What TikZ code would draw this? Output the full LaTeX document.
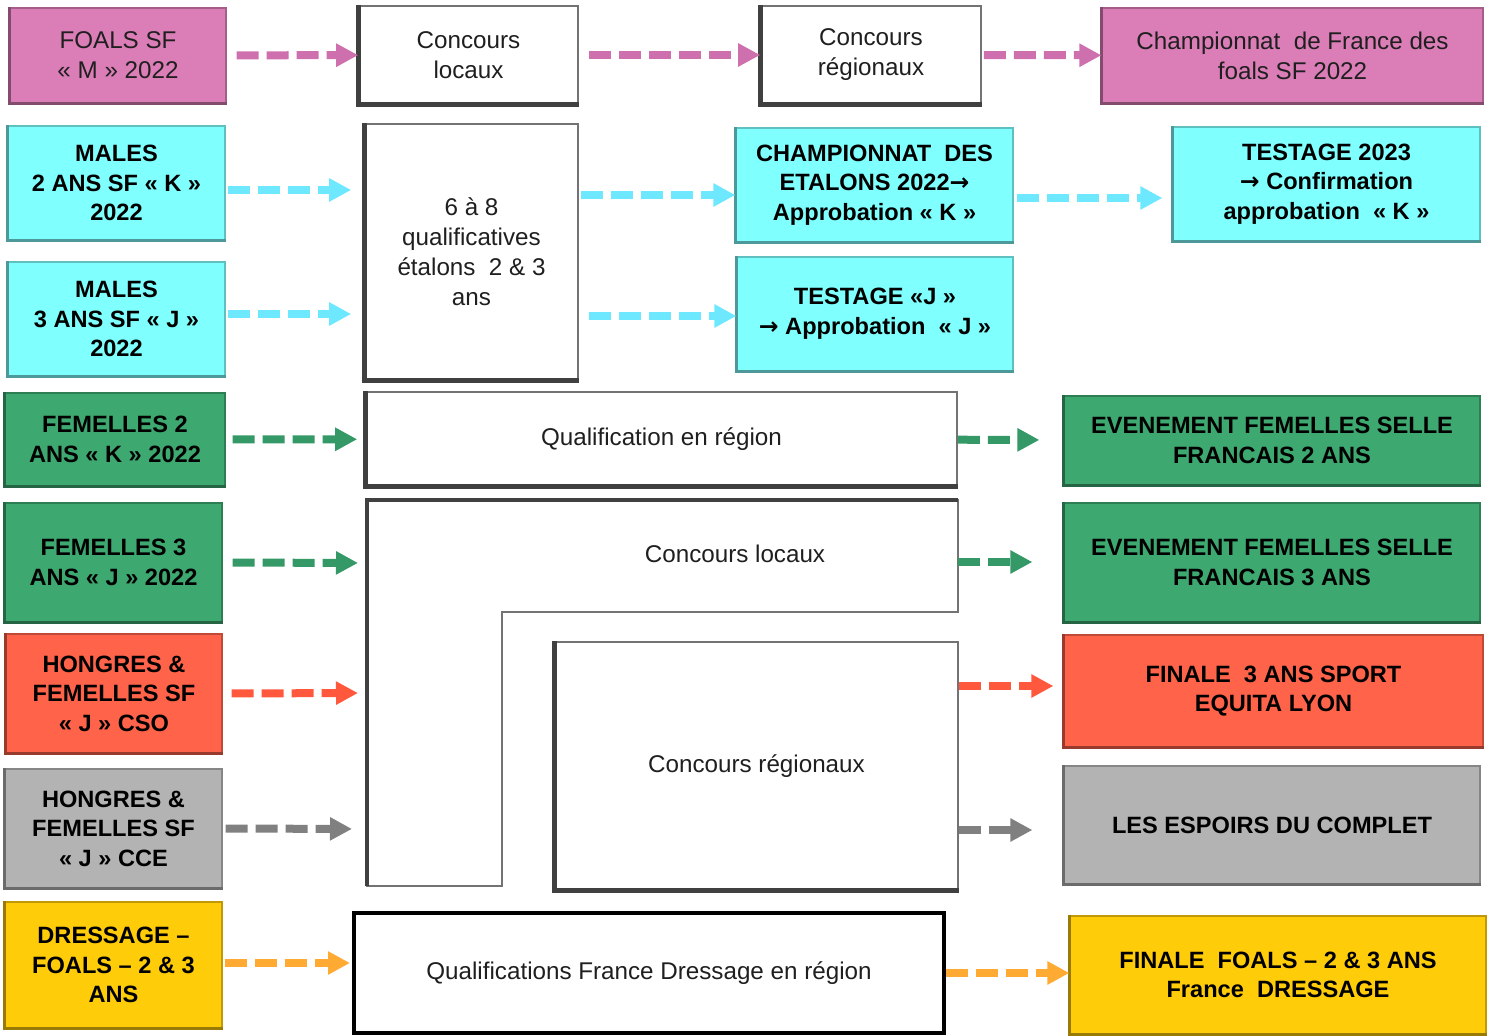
\documentclass[tikz,border=0pt]{standalone}
\usepackage{fontspec}
\setmainfont{Liberation Sans}
\newfontfamily\arrowfont{DejaVu Sans}
\newcommand{\rarr}{{\arrowfont →}}
\usetikzlibrary{arrows.meta,calc}

\definecolor{pinkB}{RGB}{219,125,183}
\definecolor{pinkA}{RGB}{206,112,174}
\definecolor{cyanB}{RGB}{128,255,255}
\definecolor{cyanA}{RGB}{110,232,255}
\definecolor{greenB}{RGB}{61,168,112}
\definecolor{greenA}{RGB}{52,153,102}
\definecolor{redB}{RGB}{255,99,74}
\definecolor{redA}{RGB}{255,88,60}
\definecolor{greyB}{RGB}{179,179,179}
\definecolor{greyA}{RGB}{128,128,128}
\definecolor{yellowB}{RGB}{255,204,10}
\definecolor{orangeA}{RGB}{255,170,51}

\tikzset{
  box/.style={rectangle, inner sep=0pt, align=center, text=black!88,
    font=\fontsize{12.1}{15}\selectfont},
  plain/.style={box, fill=white, draw=black!55, line width=0.8pt},
  tint/.style={box, fill=#1, draw=#1!75!black, line width=0.6pt},
  bold/.style={font=\fontsize{11.8}{14.8}\selectfont\bfseries, text=black},
  edgeline/.style={draw=#1, line width=2.4pt},
  flow/.style={draw=#1, line width=4pt, dash pattern=on 11pt off 4pt,
    -{Triangle[length=11pt,width=11pt]}},
}

\begin{document}
\begin{tikzpicture}[x=0.5pt, y=-0.5pt]
  \useasboundingbox (0,0) rectangle (1491,1036);

  % first column
  \node[tint=pinkB, minimum width=108pt, minimum height=47.5pt] (foals) at (118,55.5) {FOALS SF\\« M » 2022};
  \node[tint=cyanB, bold, minimum width=108.5pt, minimum height=57pt] (males2) at (116.5,183) {MALES\\2 ANS SF « K »\\2022};
  \node[tint=cyanB, bold, minimum width=108.5pt, minimum height=57pt] (males3) at (116.5,319) {MALES\\3 ANS SF « J »\\2022};
  \node[tint=greenB, bold, minimum width=110pt, minimum height=46.5pt] (fem2) at (115,439.5) {FEMELLES 2\\ANS « K » 2022};
  \node[tint=greenB, bold, minimum width=108.5pt, minimum height=59.5pt] (fem3) at (113.5,562.5) {FEMELLES 3\\ANS « J » 2022};
  \node[tint=redB, bold, minimum width=108pt, minimum height=59.5pt] (cso) at (114,693.5) {HONGRES \&\\FEMELLES SF\\« J » CSO};
  \node[tint=greyB, bold, minimum width=108.5pt, minimum height=59.5pt] (cce) at (113.5,828.5) {HONGRES \&\\FEMELLES SF\\« J » CCE};
  \node[tint=yellowB, bold, minimum width=108.5pt, minimum height=63pt] (dress) at (113.5,965) {DRESSAGE –\\FOALS – 2 \& 3\\ANS};

  % competitions
  \node[plain, minimum width=109.5pt, minimum height=49pt] (loc1) at (468.5,55) {Concours\\locaux};
  \node[plain, minimum width=110pt, minimum height=49pt] (reg1) at (871,55) {Concours\\régionaux};
  \node[plain, minimum width=106.5pt, minimum height=128pt] (qualif) at (471.5,252) {6 à 8\\qualificatives\\étalons~ 2 \& 3\\ans};
  \node[plain, minimum width=295.5pt, minimum height=47pt] (qreg) at (661.5,439) {Qualification en région};
  \draw[draw=black!55, line width=0.8pt, fill=white] (367,500) -- (958,500) -- (958,612) -- (502,612) -- (502,886) -- (367,886) -- cycle;
  \draw[edgeline=black!75] (367,886) -- (367,500) -- (958,500);
  \node[box] (locL) at (735,554) {Concours locaux};
  \coordinate (Lin1) at (367,563);
  \coordinate (Lin2) at (367,693);
  \coordinate (Lin3) at (367,829);
  \coordinate (Lout1) at (958,562);
  \node[plain, minimum width=201.5pt, minimum height=124pt] (creg) at (756.5,766) {Concours régionaux};
  \node[plain, draw=black, line width=2pt, minimum width=295pt, minimum height=60pt] (qfd) at (649,973) {Qualifications France Dressage en région};
  \foreach \n in {loc1,reg1,qualif,qreg,creg}
    \draw[edgeline=black!75] (\n.north west) -- (\n.south west) -- (\n.south east);

  % finals
  \node[tint=pinkB, minimum width=190.5pt, minimum height=47.5pt] (champ) at (1292.5,55.5) {Championnat~ de France des\\foals SF 2022};
  \node[tint=cyanB, bold, minimum width=138.5pt, minimum height=57pt] (etalons) at (874.5,185) {CHAMPIONNAT~ DES\\ETALONS 2022\rarr\\Approbation « K »};
  \node[tint=cyanB, bold, minimum width=153.5pt, minimum height=57pt] (test23) at (1326.5,184) {TESTAGE 2023\\\rarr{} Confirmation\\approbation~ « K »};
  \node[tint=cyanB, bold, minimum width=138pt, minimum height=57pt] (testJ) at (875,314) {TESTAGE «J »\\\rarr{} Approbation~ « J »};
  \node[tint=greenB, bold, minimum width=208pt, minimum height=44.5pt] (evt2) at (1272,440.5) {EVENEMENT FEMELLES SELLE\\FRANCAIS 2 ANS};
  \node[tint=greenB, bold, minimum width=208pt, minimum height=59.5pt] (evt3) at (1272,562.5) {EVENEMENT FEMELLES SELLE\\FRANCAIS 3 ANS};
  \node[tint=redB, bold, minimum width=209.5pt, minimum height=56pt] (fin3) at (1273.5,691) {FINALE~ 3 ANS SPORT\\EQUITA LYON};
  \node[tint=greyB, bold, minimum width=208pt, minimum height=59pt] (espoirs) at (1272,825) {LES ESPOIRS DU COMPLET};
  \node[tint=yellowB, bold, minimum width=208pt, minimum height=59pt] (finf) at (1278,975) {FINALE~ FOALS – 2 \& 3 ANS\\France~ DRESSAGE};
  \foreach \n/\c in {foals/pinkB,males2/cyanB,males3/cyanB,fem2/greenB,fem3/greenB,cso/redB,cce/greyB,dress/yellowB,
      champ/pinkB,etalons/cyanB,test23/cyanB,testJ/cyanB,evt2/greenB,evt3/greenB,fin3/redB,espoirs/greyB,finf/yellowB}
    \draw[draw=\c!60!black, line width=1.3pt] (\n.north west) -- (\n.south west) -- (\n.south east);

  % arrows
  \draw[flow=pinkA, shorten <=5pt] (foals) -- (loc1);
  \draw[flow=pinkA, shorten <=5pt] (loc1) -- (reg1);
  \draw[flow=pinkA, shorten <=1pt] (reg1) -- (champ);
  \draw[flow=cyanA, shorten <=1pt, shorten >=6.5pt] ($(males2.east)+(0,7)$) -- ($(males2.east -| qualif.west)+(0,7)$);
  \draw[flow=cyanA, shorten <=1pt] ($(qualif.east |- etalons.west)+(0,10)$) -- ($(etalons.west)+(0,10)$);
  \draw[flow=cyanA, shorten <=1.5pt, shorten >=5pt] ($(etalons.east)+(0,13)$) -- ($(etalons.east -| test23.west)+(0,13)$);
  \draw[flow=cyanA, shorten <=1pt, shorten >=6.5pt] ($(males3.east)+(0,-5)$) -- ($(males3.east -| qualif.west)+(0,-5)$);
  \draw[flow=cyanA, shorten <=5pt] ($(qualif.east |- testJ.west)+(0,2)$) -- ($(testJ.west)+(0,2)$);
  \draw[flow=greenA, shorten <=3.5pt, shorten >=4pt] (fem2) -- (qreg);
  \draw[flow=greenA, shorten >=12pt] (qreg) -- (evt2);
  \draw[flow=greenA, shorten <=5pt, shorten >=4.5pt] (fem3.east) -- (Lin1);
  \draw[flow=greenA, shorten >=15.5pt] (Lout1) -- (Lout1 -| evt3.west);
  \draw[flow=redA, shorten <=4.5pt, shorten >=4.5pt] (cso.east) -- (Lin2);
  \draw[flow=redA, shorten >=5pt] ($(creg.east |- fin3.west)+(0,-5)$) -- ($(fin3.west)+(0,-5)$);
  \draw[flow=greyA, shorten <=1.5pt, shorten >=7.5pt] (cce.east) -- (Lin3);
  \draw[flow=greyA, shorten >=15.5pt] ($(creg.east |- espoirs.west)+(0,5)$) -- ($(espoirs.west)+(0,5)$);
  \draw[flow=orangeA, shorten <=1pt, shorten >=1pt] ($(dress.east)+(0,-2)$) -- ($(dress.east -| qfd.west)+(0,-2)$);
  \draw[flow=orangeA] (qfd.east) -- (qfd.east -| finf.west);
\end{tikzpicture}
\end{document}
